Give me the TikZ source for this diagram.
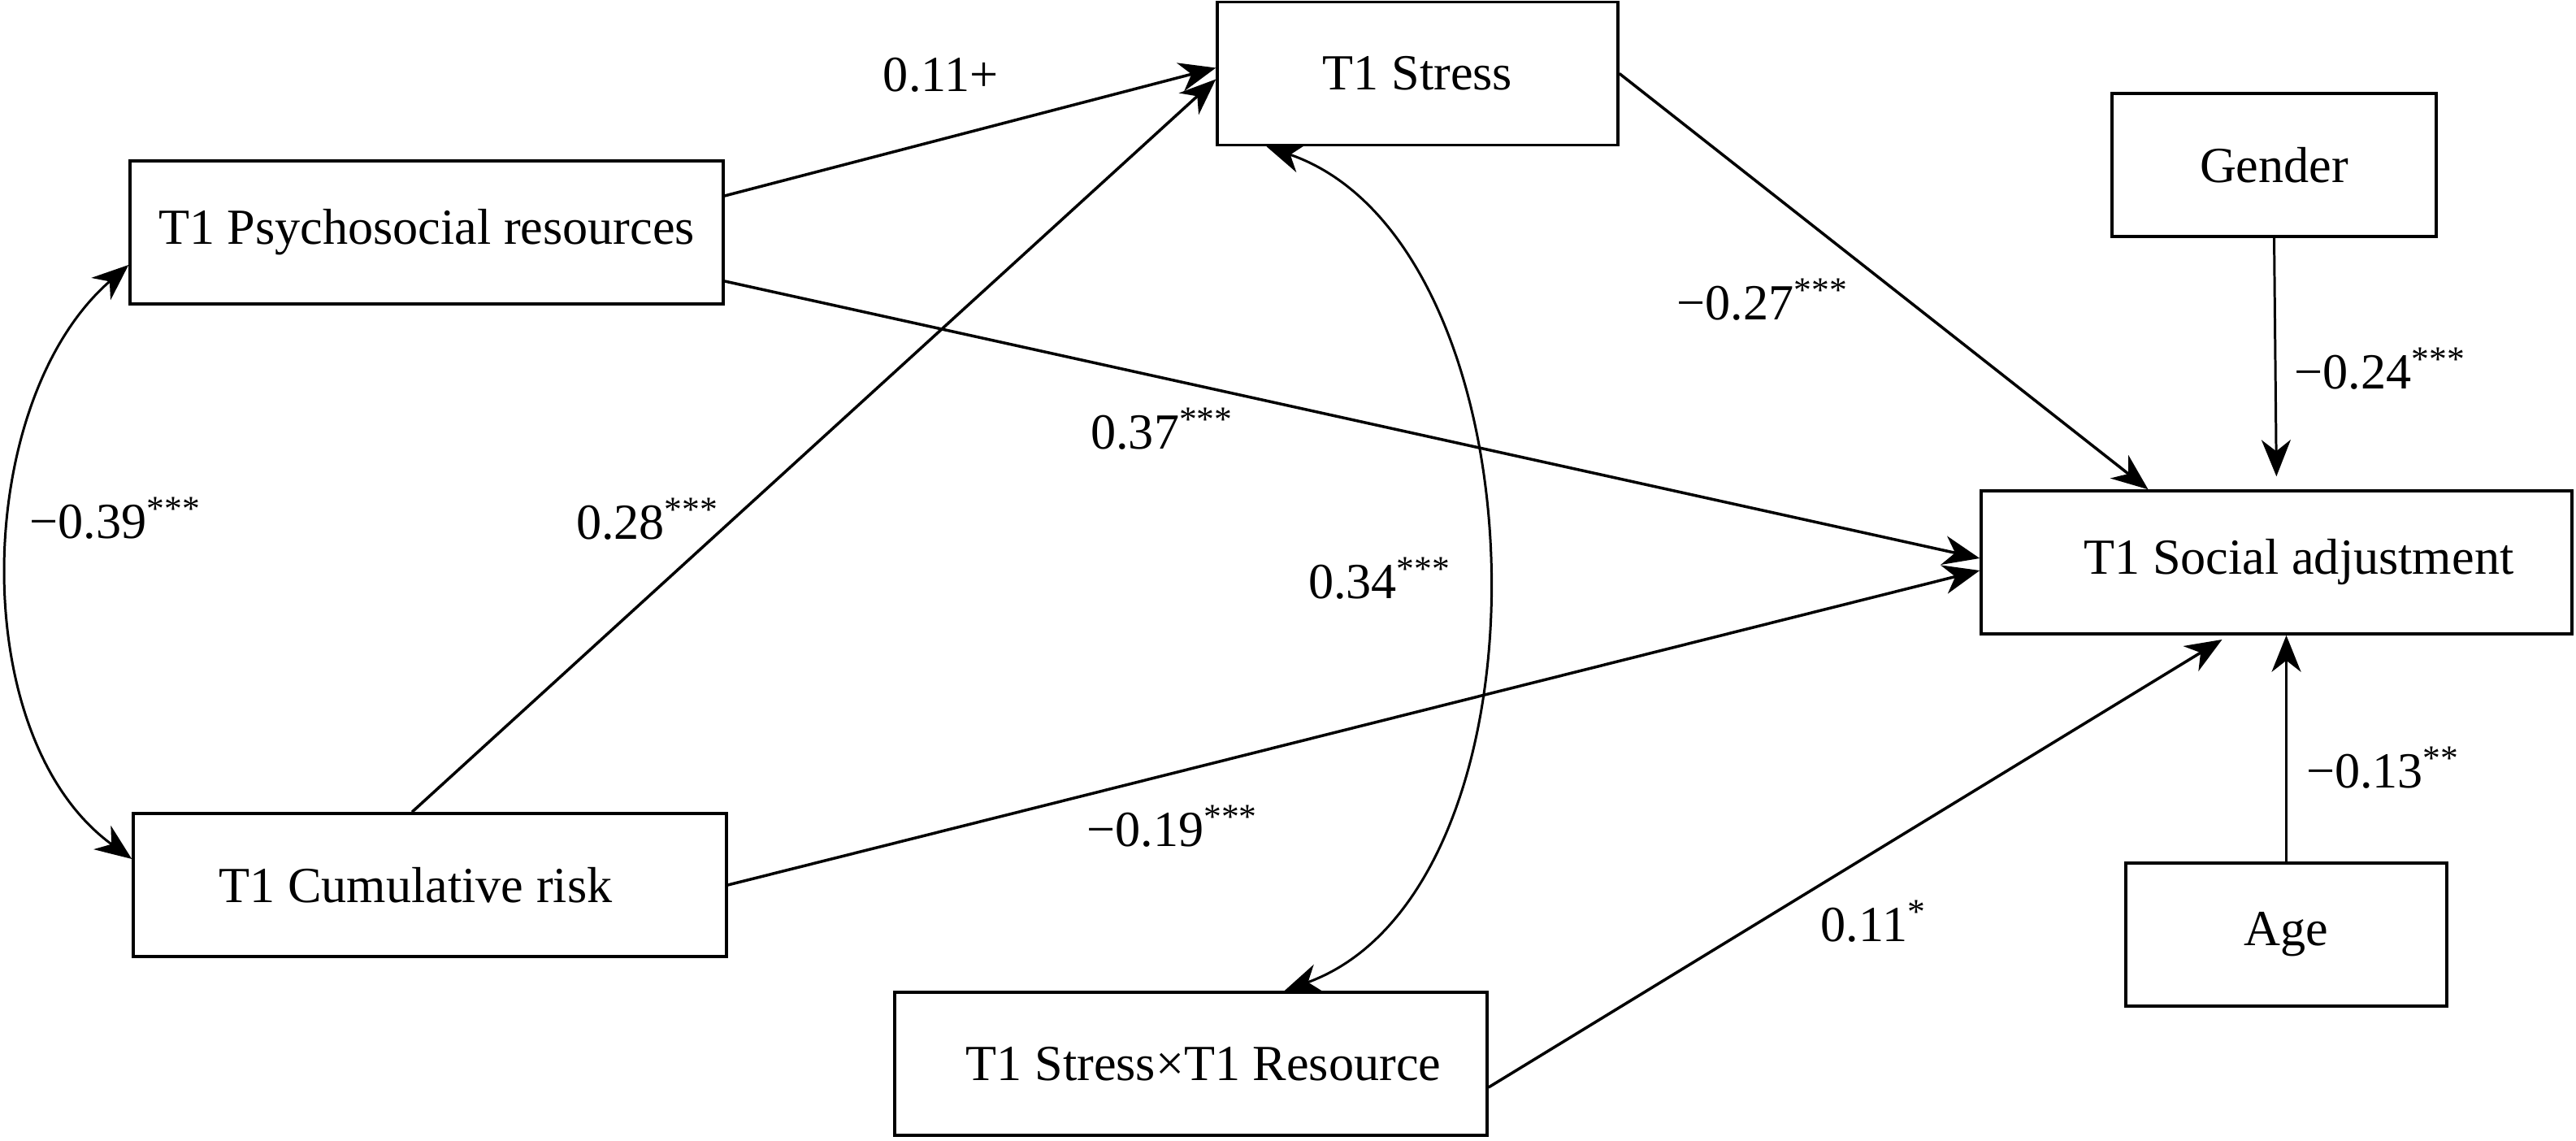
\documentclass[tikz,border=0pt]{standalone}
\usepackage{fontspec}
\setmainfont{Liberation Serif}
\usetikzlibrary{positioning, arrows.meta}

\begin{document}
\begin{tikzpicture}[
        font=\fontsize{17.7pt}{21pt}\selectfont,
        >={Stealth[length=4.5mm, width=3.6mm, inset=1.4mm]},
        var/.style={draw, line width=1pt, minimum height=1.76cm, inner sep=0pt},
        eff/.style={->, line width=1pt},
        cov/.style={<->, line width=0.85pt},
        coef/.style={inner sep=0pt}
    ]
        \useasboundingbox (0, 0) rectangle (31.7, 14.03);

        \node[var, minimum width=7.3cm] (psy) at (5.25, 11.17) {T1 Psychosocial resources};
        \node[var, minimum width=4.93cm] (stress) at (17.445, 13.125) {T1 Stress};
        \node[var, minimum width=3.99cm] (gender) at (27.985, 12.0) {Gender};
        \node[var, minimum width=7.27cm] (social) at (28.015, 7.11) {\hspace*{5.5mm}T1 Social adjustment};
        \node[var, minimum width=3.95cm] (age) at (28.135, 2.53) {Age};
        \node[var, minimum width=7.3cm] (risk) at (5.29, 3.14) {T1 Cumulative risk\hspace*{3.5mm}};
        \node[var, minimum width=7.29cm] (inter) at (14.655, 0.94) {\hspace*{3.1mm}T1 Stress×T1 Resource};

        \draw[eff] ([yshift=4.5mm]psy.east) to node[coef, pos=.44, above=5.7mm] (c1) {0.11+} ([yshift=0.7mm]stress.west);
        \draw[eff] ([yshift=-6mm]psy.east) to node[coef, pos=.415, below left=1.8mm] (c2) {0.37\textsuperscript{***}} ([yshift=0.5mm]social.west);
        \draw[eff] ([xshift=-2.2mm]risk.north) to node[coef, pos=.40, left=1.6mm] (c3) {0.28\textsuperscript{***}} ([yshift=-0.7mm]stress.west);
        \draw[eff] (risk.east) to node[coef, pos=.28, below right=1.2mm] (c4) {−0.19\textsuperscript{***}} ([yshift=-1mm]social.west);
        \draw[eff] (stress.east) to node[coef, pos=.46, below left=2.2mm] (c5) {−0.27\textsuperscript{***}} ([xshift=-15.8mm]social.north);
        \draw[eff, line width=0.85pt, shorten >=1.6mm] (gender.south) to node[coef, pos=.52, right=2.2mm] (c6) {−0.24\textsuperscript{***}} (social.north);
        \draw[eff, line width=0.85pt] (age.north) to node[coef, pos=.415, right=2.3mm] (c7) {−0.13\textsuperscript{**}} (age.north |- social.south);
        \draw[eff, shorten >=1mm] ([yshift=-2.9mm]inter.east) to node[coef, pos=.435, below right=1.5mm] (c8) {0.11\textsuperscript{*}} ([xshift=-5.85mm]social.south);
        \draw[cov] ([yshift=-4mm]psy.west) to[out=221, in=144, looseness=0.89] node[coef, pos=.43, right=2.1mm] (c9) {−0.39\textsuperscript{***}} ([yshift=3.2mm]risk.west);
        \draw[cov] ([xshift=-18.6mm]stress.south) to[out=-19, in=20, looseness=0.9] node[coef, pos=.51, left=4.1mm] (c10) {0.34\textsuperscript{***}} ([xshift=11.5mm]inter.north);
    \end{tikzpicture}
\end{document}
